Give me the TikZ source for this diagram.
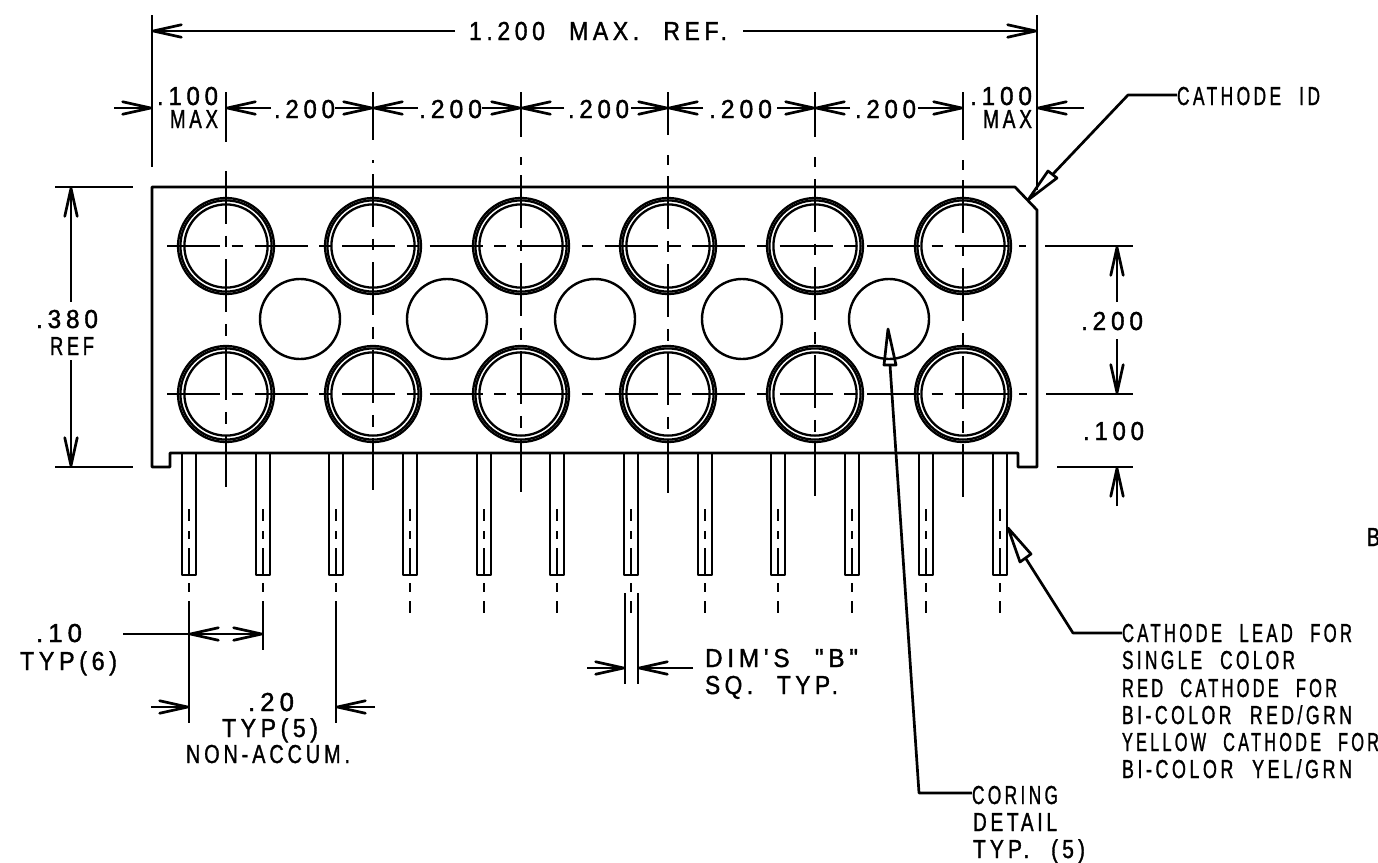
\documentclass[tikz,border=0pt]{standalone}
\usepackage{fontspec}
\usepackage{graphicx}
\usetikzlibrary{arrows.meta}
\newfontfamily\cadfont[FakeStretch=0.76,FakeBold=1.2,LetterSpace=15,WordSpace=2.2]{Liberation Sans}
\tikzset{
  ink/.style={line width=2.7pt,line join=round,line cap=butt},
  dimline/.style={ink,-{Straight Barb[length=28pt,width=12.5pt,round]}},
  center line/.style={ink,dash pattern=on 53pt off 11.7pt on 11.7pt off 11.7pt},
  hcenter line/.style={ink,dash pattern=on 53pt off 11.5pt on 11.5pt off 11.5pt},
  txt/.style={inner sep=0pt,outer sep=0pt,anchor=base west,font=\cadfont\fontsize{26}{26}\selectfont},
  ring/.style={line width=2.3pt},
  leaderhead/.style={ink}
}
\newcommand{\lbl}[5]{%
  \pgfmathsetlengthmacro\lblw{#3-#2}%
  \node[txt] (#1) at (#2,#4) {\resizebox{\lblw}{\height}{#5}};}
\begin{document}
\begin{tikzpicture}[x=1pt,y=-1pt]
\useasboundingbox (0,0) rectangle (1378,862);
% body
\draw[ink] (152,187) -- (1015,187) -- (1037,210) -- (1037,467) -- (1018,467) -- (1018,453)
  -- (170,453) -- (170,467) -- (152,467) -- cycle;
% leads
\foreach \x in {189,263,336,410,484,557,631,705,778,852,926,1000}{
  \draw[ink] (\x-7,453) -- (\x-7,575) -- (\x+7,575) -- (\x+7,453);
  \draw[ink] (\x,509) -- (\x,521) (\x,531) -- (\x,539) (\x,548) -- (\x,575) (\x,583) -- (\x,592);
}
\foreach \x in {410,484,557,631,705,778,852,926,1000}{
  \draw[ink] (\x,601) -- (\x,613);
}
\draw[ink] (189,601) -- (189,723);
\draw[ink] (263,601) -- (263,650);
\draw[ink] (336,601) -- (336,723);
% rings and holes
\foreach \x in {226,373,521,668,815,963}{
  \foreach \y in {246,394}{
    \draw[ring] (\x,\y) circle[radius=48];
    \draw[ring] (\x,\y) circle[radius=45.6];
    \draw[ring] (\x,\y) circle[radius=41.6];
  }
}
\foreach \x in {300,447,595,742,889}{
  \draw[ink,line width=2.4pt] (\x,319) circle[radius=40];
}
% vertical centre lines
\foreach \x/\s/\e/\a/\b/\c in {226/171/487/142/0/0,373/174/490/140/160/162.5,521/175/492/137/157/165,668/176/495/135/155/165,815/179/497/137/157/167,963/180/498/140/160/170}{
  \draw[center line] (\x,\s) -- (\x,\e);
  \draw[ink] (\x,92) -- (\x,\a);
  \ifdim \b pt>0pt \draw[ink] (\x,\b) -- (\x,\c); \fi
}
% horizontal centre lines
\draw[hcenter line] (167,246) -- (1026,246);
\draw[hcenter line] (167,394) -- (1027,394);
\draw[ink] (1045,246) -- (1133,246);
\draw[ink] (1046,394) -- (1133,394);
\draw[ink] (1057,467) -- (1133,467);
% overall width
\draw[ink] (152,15) -- (152,167);
\draw[ink] (1037,15) -- (1037,190);
\lbl{overall}{469}{727}{40}{1.200 MAX. REF.}
\coordinate (ovl) at (152,31); \coordinate (ovr) at (1037,31);
\draw[dimline] (455,31) -- (ovl);
\draw[dimline] (743,31) -- (ovr);
% pitch dims
\draw[dimline] (114,108) -- (152,108);
\lbl{lefta}{157}{218}{105}{.100}
\lbl{leftb}{170}{218}{128}{MAX}
\draw[dimline] (271,108) -- (226,108);
\lbl{pa}{274}{335}{118}{.200}
\draw[dimline] (335,108) -- (373,108);
\draw[dimline] (418,108) -- (373,108);
\lbl{pb}{419}{482}{118}{.200}
\draw[dimline] (482,108) -- (521,108);
\draw[dimline] (564,108) -- (521,108);
\lbl{pc}{568}{629}{118}{.200}
\draw[dimline] (631,108) -- (668,108);
\draw[dimline] (703,108) -- (668,108);
\lbl{pd}{709}{772}{118}{.200}
\draw[dimline] (777,108) -- (815,108);
\draw[dimline] (850,108) -- (815,108);
\lbl{pe}{855}{916}{118}{.200}
\draw[dimline] (918,108) -- (963,108);
\lbl{righta}{970}{1032}{105}{.100}
\lbl{rightb}{983}{1032}{128}{MAX}
\draw[dimline] (1084,108) -- (1037,108);
% height
\draw[ink] (55,187) -- (133,187);
\draw[ink] (55,467) -- (133,467);
\lbl{hta}{36}{98}{328}{.380}
\lbl{htb}{50}{94}{355}{REF}
\draw[dimline] (71,302) -- (71,187);
\draw[dimline] (71,360) -- (71,467);
% right dims
\lbl{rda}{1081}{1143}{330}{.200}
\draw[dimline] (1117,302) -- (1117,246);
\draw[dimline] (1117,339) -- (1117,394);
\lbl{rdb}{1083}{1144}{440}{.100}
\draw[dimline] (1117,506) -- (1117,467);
% cathode ID leader
\lbl{cathid}{1177}{1320}{105}{CATHODE ID}
\coordinate (idknee) at (1128,95);
\coordinate (idtip) at (1028,200);
\draw[ink] (cathid.west |- idknee) -- (idknee) -- (1052.5,174.5);
\draw[leaderhead] (idtip) -- (1048,171) -- (1057,178) -- cycle;
% cathode lead leader
\lbl{ca}{1122}{1352}{642}{CATHODE LEAD FOR}
\lbl{cb}{1122}{1295}{669}{SINGLE COLOR}
\lbl{cc}{1122}{1337}{697}{RED CATHODE FOR}
\lbl{cd}{1122}{1352}{724}{BI-COLOR RED/GRN}
\lbl{ce}{1122}{1379}{751}{YELLOW CATHODE FOR}
\lbl{cf}{1122}{1352}{778}{BI-COLOR YEL/GRN}
\coordinate (cknee) at (1073,633);
\coordinate (ctip) at (1008,528);
\draw[ink] (1122,633) -- (cknee) -- (1025.5,558);
\draw[leaderhead] (ctip) -- (1020,562) -- (1031,554) -- cycle;
% coring leader
\lbl{cora}{972}{1058}{804}{CORING}
\lbl{corb}{973}{1057}{831}{DETAIL}
\lbl{corc}{973}{1085}{858}{TYP. (5)}
\coordinate (corknee) at (919,793);
\coordinate (cortip) at (888,329);
\draw[ink] (972,793) -- (corknee) -- (890,365);
\draw[leaderhead] (cortip) -- (884,365) -- (896,365) -- cycle;
% lead pitch dims
\lbl{tena}{36}{82}{642}{.10}
\lbl{tenb}{20}{117}{670}{TYP(6)}
\coordinate (tenl) at (189,634); \coordinate (tenr) at (263,634);
\draw[ink] (123,634) -- (tenl);
\draw[dimline] (226,634) -- (tenl);
\draw[dimline] (226,634) -- (tenr);
\lbl{twa}{248}{294}{711}{.20}
\lbl{twb}{222}{318}{737}{TYP(5)}
\lbl{twc}{186}{350}{763}{NON-ACCUM.}
\draw[dimline] (151,707) -- (189,707);
\draw[dimline] (375,707) -- (336,707);
% lead width dim
\draw[ink] (625,593) -- (625,684);
\draw[ink] (638,593) -- (638,684);
\draw[dimline] (587,668) -- (625,668);
\draw[dimline] (693,668) -- (638,668);
\lbl{dma}{705}{858}{667}{DIM'S "B"}
\lbl{dmb}{705}{838}{694}{SQ. TYP.}
% stray letter
\lbl{stray}{1367}{1380}{546}{B}
\end{tikzpicture}
\end{document}
